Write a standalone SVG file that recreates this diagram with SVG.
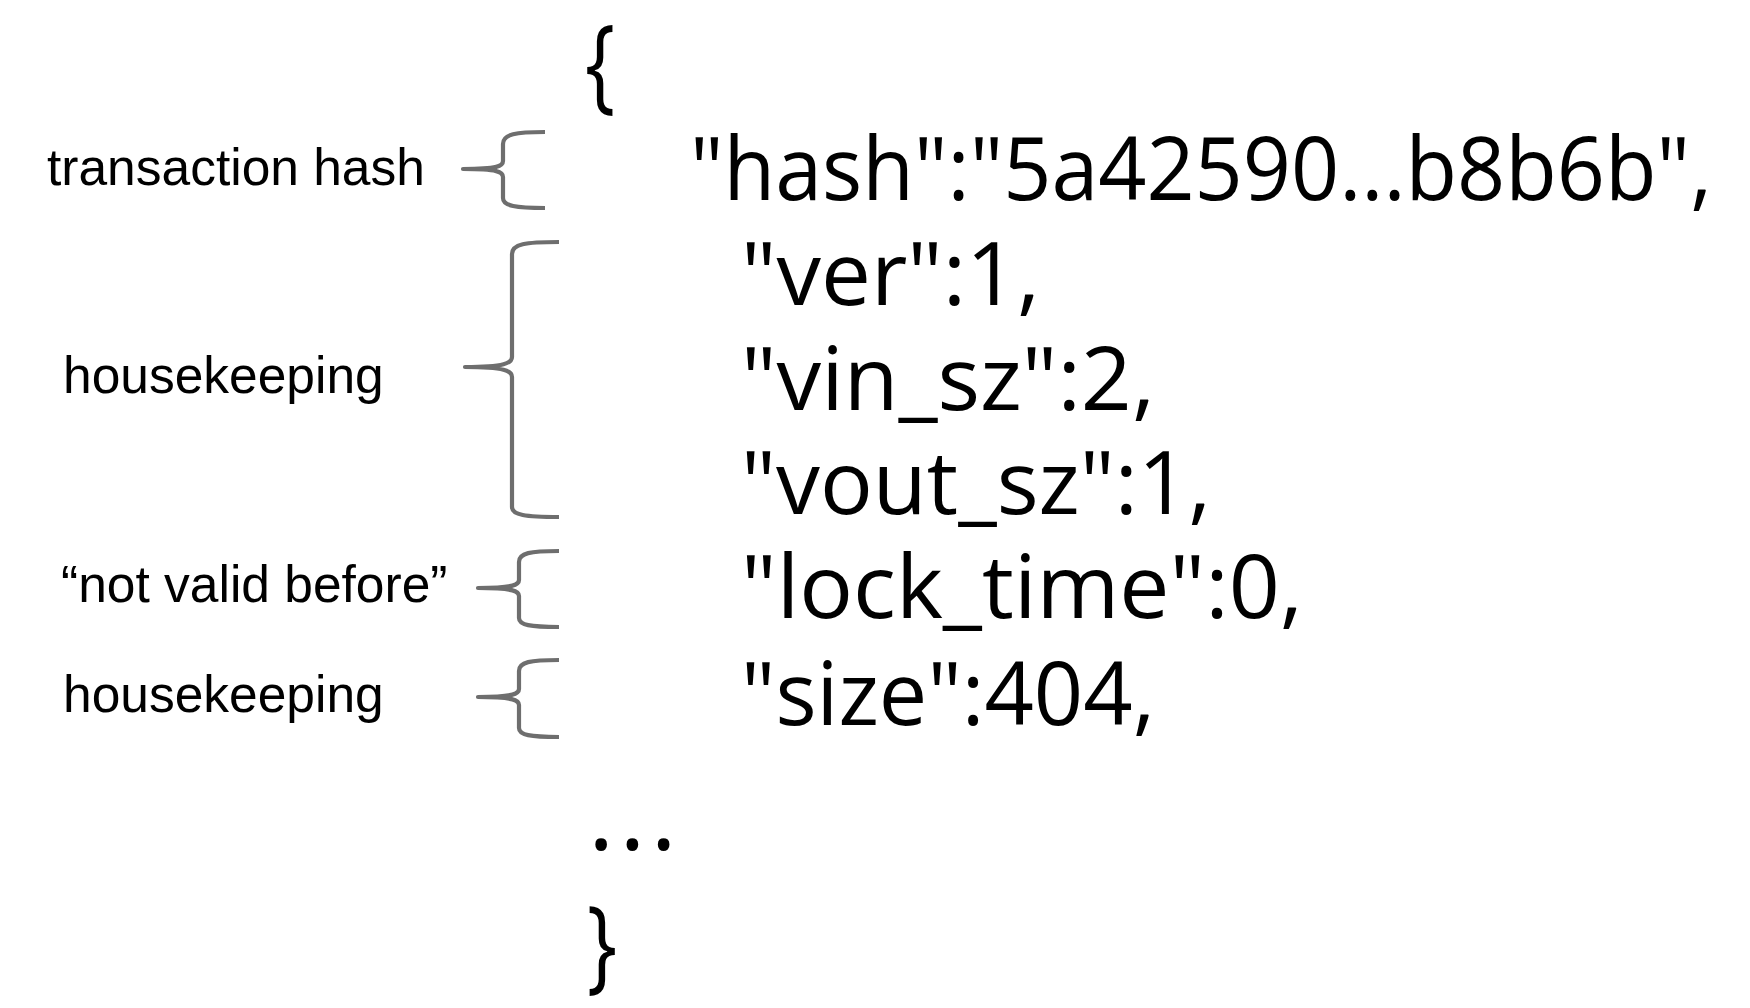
<svg xmlns="http://www.w3.org/2000/svg" width="1750" height="1008" viewBox="0 0 1750 1008">
  <style>
    .label { font-family: "Liberation Sans", Arial, sans-serif; font-size: 51.5px; fill: #000; }
    .code { font-family: "Open Sans", "Noto Sans", sans-serif; font-size: 88px; fill: #000; }
    .curly { font-family: "Open Sans", "Noto Sans", sans-serif; fill: #000; }
    .brace { fill: none; stroke: #6e6e6e; stroke-width: 4.2; stroke-linecap: butt; stroke-linejoin: round; }
  </style>
  <rect width="1750" height="1008" fill="#ffffff"/>

  <g id="json">
    <text class="curly" font-size="104" x="585" y="99" textLength="30" lengthAdjust="spacingAndGlyphs">{</text>
    <text class="code" font-size="86" x="690" y="200" textLength="1022" lengthAdjust="spacingAndGlyphs">"hash":"5a42590...b8b6b",</text>
    <text class="code" x="741" y="305" textLength="299" lengthAdjust="spacingAndGlyphs">"ver":1,</text>
    <text class="code" x="741" y="410" textLength="414" lengthAdjust="spacingAndGlyphs">"vin_sz":2,</text>
    <text class="code" x="741" y="514" textLength="470" lengthAdjust="spacingAndGlyphs">"vout_sz":1,</text>
    <text class="code" x="741" y="618" textLength="562" lengthAdjust="spacingAndGlyphs">"lock_time":0,</text>
    <text class="code" x="741" y="725" textLength="414" lengthAdjust="spacingAndGlyphs">"size":404,</text>
    <text class="curly" font-size="100" x="588" y="850" letter-spacing="5">...</text>
    <text class="curly" font-size="102" x="587" y="980" textLength="30" lengthAdjust="spacingAndGlyphs">}</text>
  </g>

  <g id="label-hash">
    <text class="label" x="47" y="185">transaction hash</text>
  </g>
  <g id="label-housekeeping-1">
    <text class="label" x="63" y="393">housekeeping</text>
  </g>
  <g id="label-not-valid">
    <text class="label" x="61" y="602">“not valid before”</text>
  </g>
  <g id="label-housekeeping-2">
    <text class="label" x="63" y="712">housekeeping</text>
  </g>

  <g id="connectors">
    <path class="brace" d="M545,132 C516,132 503,134 503,144 L503,161 C503,166 498,169 463,169 C498,169 503,172 503,177 L503,198 C503,206 516,208 545,208"/>
    <path class="brace" d="M559,242 C525,242 512,244 512,254 L512,357 C512,363 505,367 465,367 C505,367 512,371 512,377 L512,507 C512,515 525,517 559,517"/>
    <path class="brace" d="M559,551 C530,551 519,553 519,562 L519,580 C519,585 513,588 478,588 C513,588 519,591 519,596 L519,618 C519,625 530,627 559,627"/>
    <path class="brace" d="M559,660 C530,660 519,662 519,671 L519,689 C519,694 513,697 478,697 C513,697 519,700 519,705 L519,728 C519,735 530,737 559,737"/>
  </g>
</svg>
